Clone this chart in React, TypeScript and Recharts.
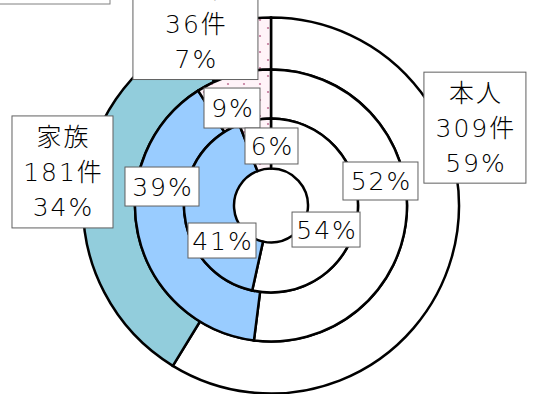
import { PieChart, Pie, Cell } from "recharts";

const categories = ["本人", "家族", "その他"];
const outerCounts = [309, 181, 36];
const outerPercents = [59, 34, 7];
const middlePercents = [52, 39, 9];
const innerPercents = [54, 41, 6];

const FILL_OUTER = ["#FFFFFF", "#92CDDC", "url(#dots)"];
const FILL_INNER = ["#FFFFFF", "#99CCFF", "url(#dots)"];

const CX = 271;
const CY = 205.5;
const RINGS = { inner: [37, 87], middle: [87, 136], outer: [136, 188] };

// label box placement: nudge from ring mid-point, box width/height
const innerLayout = [
  { dx: -6.6, dy: 17.3, w: 68, h: 35 },
  { dx: 12.8, dy: 30.2, w: 68, h: 35 },
  { dx: 12, dy: 1.4, w: 53, h: 36 },
];
const middleLayout = [
  { dx: -1.8, dy: -31.5, w: 75, h: 38 },
  { dx: -0.2, dy: -43.3, w: 74, h: 39 },
  { dx: -7.9, dy: 9.6, w: 56, h: 40 },
];
const outerLayout = [
  { dx: 48, dy: -121.8, w: 102, h: 111 },
  { dx: -46.8, dy: -23.9, w: 101, h: 112 },
  { dx: -41, dy: -23.7, w: 125, h: 112 },
];

const FONT = "'DejaVu Sans', 'Noto Sans CJK JP', sans-serif";
const FS = 25;
const LS = 2;
const RAD = Math.PI / 180;

const outerData = categories.map((name, i) => ({ name, value: outerCounts[i] }));
const middleData = categories.map((name, i) => ({ name, value: middlePercents[i] }));
const innerData = categories.map((name, i) => ({ name, value: innerPercents[i] }));

function makeLabel(layout: typeof innerLayout, lines: (i: number) => string[]) {
  return (props: any) => {
    const { cx, cy, midAngle, innerRadius, outerRadius, index } = props;
    const r = (innerRadius + outerRadius) / 2;
    const lay = layout[index];
    const x = cx + r * Math.cos(-midAngle * RAD) + lay.dx;
    const y = cy + r * Math.sin(-midAngle * RAD) + lay.dy;
    const txt = lines(index);
    const step = 35;
    return (
      <g key={`lbl-${index}`}>
        <rect
          x={x - lay.w / 2}
          y={y - lay.h / 2}
          width={lay.w}
          height={lay.h}
          fill="#fff"
          stroke="#606060"
          strokeWidth={1}
        />
        {txt.map((t, k) => (
          <text
            key={k}
            x={x + LS / 2}
            y={y + (k - (txt.length - 1) / 2) * step + FS * 0.36}
            textAnchor="middle"
            fontFamily={FONT}
            fontSize={FS}
            fontWeight={200}
            letterSpacing={LS}
            fill="#000"
          >
            {t}
          </text>
        ))}
      </g>
    );
  };
}

const innerLabel = makeLabel(innerLayout, (i) => [`${innerPercents[i]}%`]);
const middleLabel = makeLabel(middleLayout, (i) => [`${middlePercents[i]}%`]);
const outerLabel = makeLabel(outerLayout, (i) => [
  categories[i],
  `${outerCounts[i]}件`,
  `${outerPercents[i]}%`,
]);

export default function App() {
  const ring = (
    key: string,
    data: { name: string; value: number }[],
    radii: number[],
    fills: string[]
  ) => (
    <Pie
      key={key}
      data={data}
      dataKey="value"
      nameKey="name"
      cx={CX}
      cy={CY}
      innerRadius={radii[0]}
      outerRadius={radii[1]}
      startAngle={90}
      endAngle={-270}
      stroke="#000"
      strokeWidth={2.5}
      label={false}
      labelLine={false}
      isAnimationActive={false}
    >
      {data.map((_, i) => (
        <Cell key={i} fill={fills[i]} />
      ))}
    </Pie>
  );

  const labels = (
    key: string,
    data: { name: string; value: number }[],
    radii: number[],
    render: (p: any) => any
  ) => (
    <Pie
      key={key}
      data={data}
      dataKey="value"
      nameKey="name"
      cx={CX}
      cy={CY}
      innerRadius={radii[0]}
      outerRadius={radii[1]}
      startAngle={90}
      endAngle={-270}
      fill="none"
      stroke="none"
      label={render}
      labelLine={false}
      isAnimationActive={false}
    >
      {data.map((_, i) => (
        <Cell key={i} fill="none" stroke="none" />
      ))}
    </Pie>
  );

  return (
    <div style={{ position: "absolute", left: 0, top: 0, background: "#fff" }}>
      <PieChart width={533} height={394} margin={{ top: 0, right: 0, bottom: 0, left: 0 }}>
        <defs>
          <pattern id="dots" width="16" height="16" patternUnits="userSpaceOnUse">
            <rect width="16" height="16" fill="#FFF3F8" />
            <circle cx="4" cy="4" r="1.1" fill="#C4789A" />
            <circle cx="12" cy="12" r="1.1" fill="#C4789A" />
          </pattern>
        </defs>
        <rect x={-2} y={-60} width={112} height={64} fill="#fff" stroke="#808080" strokeWidth={1} />
        {ring("outer", outerData, RINGS.outer, FILL_OUTER)}
        {ring("middle", middleData, RINGS.middle, FILL_INNER)}
        {ring("inner", innerData, RINGS.inner, FILL_INNER)}
        {labels("outerL", outerData, RINGS.outer, outerLabel)}
        {labels("middleL", middleData, RINGS.middle, middleLabel)}
        {labels("innerL", innerData, RINGS.inner, innerLabel)}
      </PieChart>
    </div>
  );
}
